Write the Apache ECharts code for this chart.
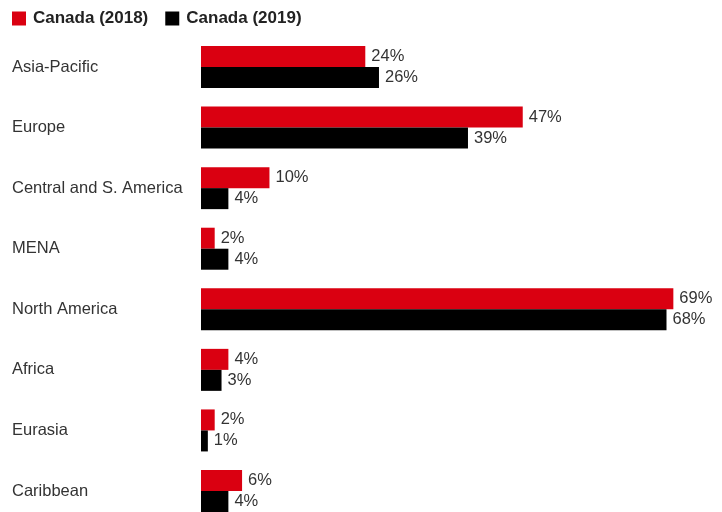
<!DOCTYPE html>
<html>
<head>
<meta charset="utf-8">
<script src="https://cdn.jsdelivr.net/npm/echarts@6/dist/echarts.min.js"></script>
<style>
  html, body { margin: 0; padding: 0; background: #fff; }
  #chart { width: 722px; height: 512px; }
</style>
</head>
<body>
<div id="chart"></div>
<script>
// Regional shares, Canada 2018 vs 2019 (percent)
const regions = ['Asia-Pacific', 'Europe', 'Central and S. America', 'MENA', 'North America', 'Africa', 'Eurasia', 'Caribbean'];
const canada2018 = [24, 47, 10, 2, 69, 4, 2, 6];
const canada2019 = [26, 39, 4, 4, 68, 3, 1, 4];
const seriesNames = ['Canada (2018)', 'Canada (2019)'];
const seriesColors = ['#da0011', '#000000'];

const fontFamily = '"Liberation Sans", Arial, Helvetica, sans-serif';

const chart = echarts.init(document.getElementById('chart'), null, { renderer: 'canvas' });

const labelStyle = {
  show: true,
  position: 'right',
  distance: 6,
  formatter: p => p.value + '%',
  color: '#333',
  fontSize: 16.5,
  fontFamily: fontFamily
};

chart.setOption({
  animation: false,
  backgroundColor: '#fff',
  legend: {
    left: 12,
    top: 10,
    padding: 0,
    itemWidth: 14,
    itemHeight: 14,
    itemGap: 17,
    icon: 'rect',
    textStyle: {
      fontFamily: fontFamily,
      fontSize: 17,
      fontWeight: 'bold',
      color: '#222',
      padding: [0, 0, 0, 2]
    },
    data: seriesNames
  },
  grid: {
    left: 201,
    top: 36.7,
    width: 510,
    height: 484.6,
    containLabel: false,
    outerBoundsMode: 'none'
  },
  xAxis: {
    type: 'value',
    min: 0,
    max: 74.5,
    show: false
  },
  yAxis: {
    type: 'category',
    inverse: true,
    data: regions,
    axisLine: { show: false },
    axisTick: { show: false },
    axisLabel: {
      align: 'left',
      margin: 189,
      color: '#333',
      fontSize: 16.5,
      fontFamily: fontFamily
    }
  },
  series: [
    {
      name: seriesNames[0],
      type: 'bar',
      data: canada2018,
      barWidth: 21,
      barGap: '0%',
      itemStyle: { color: seriesColors[0] },
      label: labelStyle
    },
    {
      name: seriesNames[1],
      type: 'bar',
      data: canada2019,
      barWidth: 21,
      barGap: '0%',
      itemStyle: { color: seriesColors[1] },
      label: labelStyle
    }
  ]
});
</script>
</body>
</html>
